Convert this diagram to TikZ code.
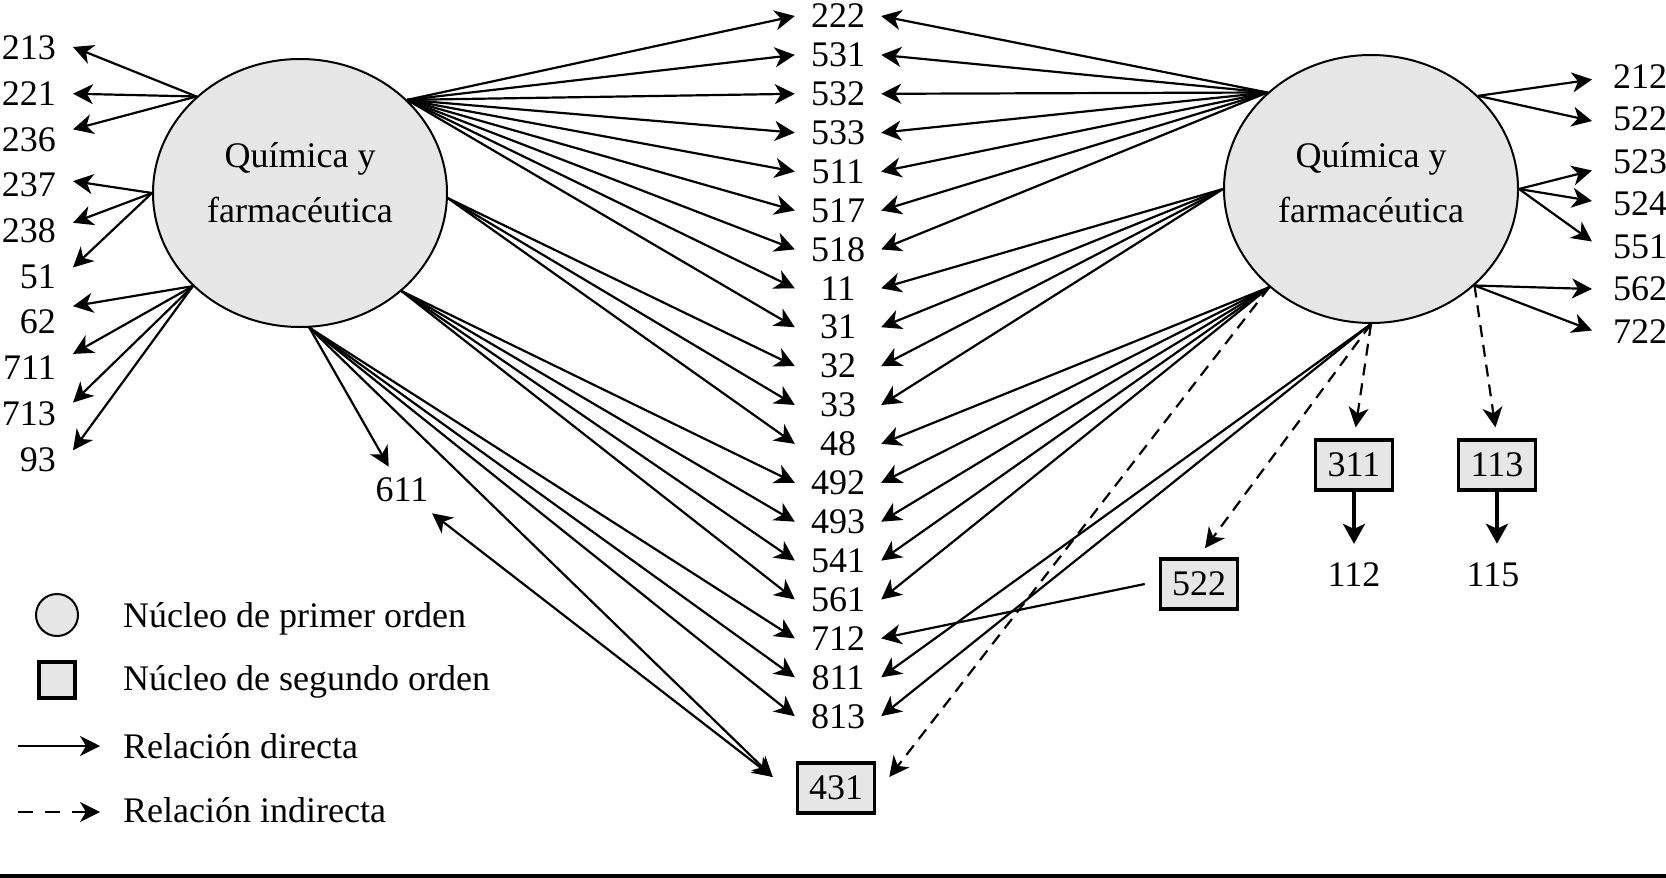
\documentclass[tikz,border=0pt]{standalone}
\usepackage{fontspec}
\setmainfont{Liberation Serif}
\usetikzlibrary{arrows.meta,shapes.geometric}
\definecolor{nucgray}{HTML}{E6E6E6}
\begin{document}
\begin{tikzpicture}[x=1pt,y=-1pt,
  every node/.style={font=\fontsize{36}{55}\selectfont, inner sep=0pt},
  >={Stealth[length=20pt,width=20pt,inset=6pt]},
  nucleus/.style={ellipse, draw, line width=2pt, fill=nucgray, minimum width=294pt, minimum height=268pt},
  box2/.style={rectangle, draw, line width=3.5pt, fill=nucgray, minimum width=77pt, minimum height=50pt},
  mid/.style={minimum width=86pt},
  conn/.style={line width=2.2pt, ->},
  dconn/.style={conn, dash pattern=on 12pt off 8pt},
  thickconn/.style={line width=3.5pt, -{Stealth[length=20pt,width=22pt,inset=5pt]}}
]
\useasboundingbox (0,0) rectangle (1666,878);

% first-order nuclei
\node[nucleus] (L) at (300,193) {};
\node[align=center] (Lt) at (300,183) {Química y\\farmacéutica};
\node[nucleus] (R) at (1371,189) {};
\node[align=center] (Rt) at (1371,183) {Química y\\farmacéutica};

% left labels
\foreach \n [count=\i from 0] in {213,221,236,237,238,51,62,711,713,93}
  \node[anchor=east, inner xsep=17pt] (l\n) at (73,{48+45.7*\i}) {\n};

% middle column
\foreach \n [count=\i from 0] in {222,531,532,533,511,517,518,11,31,32,33,48,492,493,541,561,712,811,813}
  \node[mid] (m\n) at (838,{16+38.9*\i}) {\n};

% right labels
\foreach \n [count=\i from 0] in {212,522,523,524,551,562,722}
  \node[anchor=west, inner xsep=21pt] (r\n) at (1592,{76.5+42.5*\i}) {\n};

% second-order nuclei and others
\node[box2] (b431) at (836,788) {431};
\node[box2] (b522) at (1199,584) {522};
\node[box2] (b311) at (1354,465) {311};
\node[box2] (b113) at (1497,465) {113};
\node (l112) at (1354,575) {112};
\node (l115) at (1493,575) {115};
\node[inner sep=11pt] (l611) at (402,490) {611};

% left ellipse -> left labels
\foreach \t/\s in {213/1,221/0,236/10}
  \draw[conn] (L.137) -- ([yshift=\s pt]l\t.east);
\foreach \t/\s in {237/4,238/8,51/9}
  \draw[conn] (L.180) -- ([yshift=\s pt]l\t.east);
\foreach \t/\s in {62/16,711/14,713/11,93/9}
  \draw[conn] (L.221) -- ([yshift=\s pt]l\t.east);

% left ellipse -> middle
\foreach \t in {222,531,532,533,511,517,518,11,31}
  \draw[conn] (L.41) -- (m\t.west);
\foreach \t in {32,33,48}
  \draw[conn] (L.-2) -- (m\t.west);
\foreach \t in {492,493,541,561}
  \draw[conn] (L.-44) -- (m\t.west);
\foreach \t in {712,811,813}
  \draw[conn] (L.-86) -- (m\t.west);
\draw[conn] (L.-86) -- ([xshift=-23pt,yshift=11pt]b431.west);
\draw[conn] (L.-86) -- (l611);
\draw[line width=2.2pt, <->] ([xshift=-23pt,yshift=11pt]b431.west) -- (l611);

% right ellipse -> middle
\foreach \t in {222,531,532,533,511,517,518}
  \draw[conn] (R.137) -- (m\t.east);
\foreach \t in {11,31,32,33}
  \draw[conn] (R.180) -- (m\t.east);
\foreach \t in {48,492,493,541,561}
  \draw[conn] (R.224) -- (m\t.east);
\draw[dconn] (R.224) -- ([xshift=13pt,yshift=11pt]b431.east);
\foreach \t in {811,813}
  \draw[conn] (R.270) -- (m\t.east);
\draw[dconn] (R.270) -- ([xshift=6pt,yshift=9pt]b522.north);
\draw[dconn, shorten >=11pt] (R.270) -- (b311.north);
\draw[dconn, shorten >=11pt] (R.317) -- (b113.north);
\draw[conn] ([xshift=-14pt]b522.west) -- (m712.east);

% right ellipse -> right labels
\foreach \t/\s in {212/-3,522/-2}
  \draw[conn] (R.41) -- ([yshift=\s pt]r\t.west);
\foreach \t/\s in {523/-9,524/3,551/5}
  \draw[conn] (R.0) -- ([yshift=\s pt]r\t.west);
\foreach \t/\s in {562/0,722/1}
  \draw[conn] (R.317) -- ([yshift=\s pt]r\t.west);

% second-order -> labels
\draw[thickconn, shorten >=19pt] (b311) -- (l112);
\draw[thickconn, shorten >=19pt] (b113.south) -- (b113.south |- l115.north);

% legend
\node[circle, draw, line width=2pt, fill=nucgray, minimum size=42pt] (g1) at (57,615) {};
\node[box2, minimum width=36pt, minimum height=36pt] (g2) at (57,680) {};
\coordinate (g3a) at (18,746);
\coordinate (g3b) at (100,746);
\draw[conn] (g3a) -- (g3b);
\coordinate (g4a) at (18,812);
\coordinate (g4b) at (100,812);
\draw[conn, dash pattern=on 15pt off 12pt] (g4a) -- (g4b);
\node[anchor=base west] (t1) at (123,627) {Núcleo de primer orden};
\node[anchor=base west] (t2) at (123,690) {Núcleo de segundo orden};
\node[anchor=base west] (t3) at (123,758) {Relación directa};
\node[anchor=base west] (t4) at (123,822) {Relación indirecta};

% bottom rule
\fill (0,874) rectangle (1666,878);
\end{tikzpicture}
\end{document}
